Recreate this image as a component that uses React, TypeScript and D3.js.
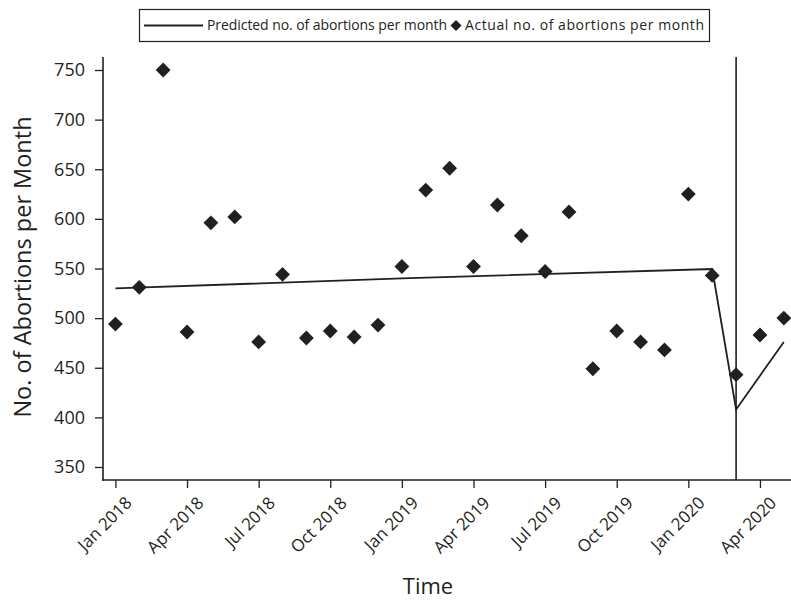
import { useEffect, useRef } from 'react';
import * as d3 from 'd3';

// month labels Jan 2018 .. May 2020
const months = [
  'Jan 2018', 'Feb 2018', 'Mar 2018', 'Apr 2018', 'May 2018', 'Jun 2018',
  'Jul 2018', 'Aug 2018', 'Sep 2018', 'Oct 2018', 'Nov 2018', 'Dec 2018',
  'Jan 2019', 'Feb 2019', 'Mar 2019', 'Apr 2019', 'May 2019', 'Jun 2019',
  'Jul 2019', 'Aug 2019', 'Sep 2019', 'Oct 2019', 'Nov 2019', 'Dec 2019',
  'Jan 2020', 'Feb 2020', 'Mar 2020', 'Apr 2020', 'May 2020',
];

const actual = [
  494, 531, 750, 486, 596, 602, 476, 544, 480, 487, 481, 493,
  552, 629, 651, 552, 614, 583, 547, 607, 449, 487, 476, 468,
  625, 543, 443, 483, 500,
];

// predicted line, read at its bends
const predictedMonths = ['Jan 2018', 'Jan 2019', 'Feb 2020', 'Mar 2020', 'Apr 2020', 'May 2020'];
const predicted = [530, 540, 549.5, 408, 442, 476];

const interruption = 'Mar 2020';

const xTickLabels = [
  'Jan 2018', 'Apr 2018', 'Jul 2018', 'Oct 2018', 'Jan 2019', 'Apr 2019',
  'Jul 2019', 'Oct 2019', 'Jan 2020', 'Apr 2020',
];
const yTicks = [350, 400, 450, 500, 550, 600, 650, 700, 750];

const INK = '#231f20';
const FONT = '"Open Sans", "Noto Sans", sans-serif';

const App = () => {
  const ref = useRef<SVGSVGElement>(null);

  useEffect(() => {
    const W = 791, H = 603;
    const left = 103, right = 791, top = 57, bottom = 480;

    const svg = d3.select(ref.current);
    svg.selectAll('*').remove();
    svg.attr('width', W).attr('height', H).style('font-family', FONT);

    const idx = (m: string) => months.indexOf(m);

    const x = d3.scaleLinear().domain([-0.52, 28.3]).range([left, right]);
    const y = d3.scaleLinear().domain([336.9, 763.1]).range([bottom, top]);

    // y axis
    const yAxis = svg.append('g')
      .attr('transform', `translate(${left},0)`)
      .call(d3.axisLeft(y).tickValues(yTicks).tickSize(8).tickPadding(10));
    yAxis.select('.domain').remove();
    yAxis.selectAll('line').attr('stroke', INK).attr('stroke-width', 1.3);
    yAxis.selectAll('text')
      .attr('fill', INK)
      .style('font-size', '18px')
      .style('font-family', FONT);
    svg.append('line')
      .attr('x1', left).attr('x2', left)
      .attr('y1', top).attr('y2', bottom + 0.75)
      .attr('stroke', INK).attr('stroke-width', 1.6);

    // x axis
    const xAxis = svg.append('g')
      .attr('transform', `translate(0,${bottom})`)
      .call(d3.axisBottom(x)
        .tickValues(xTickLabels.map(idx))
        .tickSize(8)
        .tickFormat((d) => months[+d]));
    xAxis.select('.domain').remove();
    xAxis.selectAll('line').attr('stroke', INK).attr('stroke-width', 1.3);
    xAxis.selectAll('text')
      .attr('fill', INK)
      .attr('dy', null)
      .attr('y', null)
      .attr('text-anchor', 'end')
      .attr('transform', 'translate(17,24) rotate(-45)')
      .style('font-size', '17px')
      .style('font-family', FONT);
    svg.append('line')
      .attr('x1', left - 0.8).attr('x2', right)
      .attr('y1', bottom).attr('y2', bottom)
      .attr('stroke', INK).attr('stroke-width', 1.6);

    // interruption line
    svg.append('line')
      .attr('x1', x(idx(interruption))).attr('x2', x(idx(interruption)))
      .attr('y1', top).attr('y2', bottom)
      .attr('stroke', INK).attr('stroke-width', 1.6);

    // predicted line
    const line = d3.line<number>()
      .x((_, i) => x(idx(predictedMonths[i])))
      .y((d) => y(d));
    svg.append('path')
      .datum(predicted)
      .attr('fill', 'none')
      .attr('stroke', INK)
      .attr('stroke-width', 1.8)
      .attr('d', line);

    // actual points
    const diamond = d3.symbol().type(d3.symbolSquare).size(110);
    svg.append('g')
      .selectAll('path')
      .data(actual)
      .enter().append('path')
      .attr('d', diamond)
      .attr('fill', INK)
      .attr('transform', (d, i) => `translate(${x(i)},${y(d)}) rotate(45)`);

    // axis titles
    svg.append('text')
      .attr('transform', 'translate(31,267) rotate(-90)')
      .attr('text-anchor', 'middle')
      .attr('fill', INK)
      .style('font-size', '23.5px')
      .text('No. of Abortions per Month');
    svg.append('text')
      .attr('x', 428).attr('y', 594)
      .attr('text-anchor', 'middle')
      .attr('fill', INK)
      .style('font-size', '22px')
      .text('Time');

    // legend
    const lg = svg.append('g');
    lg.append('rect')
      .attr('x', 139.5).attr('y', 9.5).attr('width', 570).attr('height', 32)
      .attr('fill', 'none').attr('stroke', INK).attr('stroke-width', 1.2);
    lg.append('line')
      .attr('x1', 144).attr('x2', 203).attr('y1', 25.5).attr('y2', 25.5)
      .attr('stroke', INK).attr('stroke-width', 1.8);
    lg.append('text')
      .attr('x', 207).attr('y', 25.5).attr('dy', '0.35em')
      .attr('fill', INK).style('font-size', '14px')
      .attr('textLength', 240).attr('lengthAdjust', 'spacing')
      .text('Predicted no. of abortions per month');
    lg.append('path')
      .attr('d', d3.symbol().type(d3.symbolSquare).size(60)())
      .attr('fill', INK)
      .attr('transform', 'translate(456,25.5) rotate(45)');
    lg.append('text')
      .attr('x', 465).attr('y', 25.5).attr('dy', '0.35em')
      .attr('fill', INK).style('font-size', '14px')
      .attr('textLength', 239).attr('lengthAdjust', 'spacing')
      .text('Actual no. of abortions per month');
  }, []);

  return (
    <div style={{ position: 'absolute', left: 0, top: 0 }}>
      <svg ref={ref} />
    </div>
  );
};

export default App;
